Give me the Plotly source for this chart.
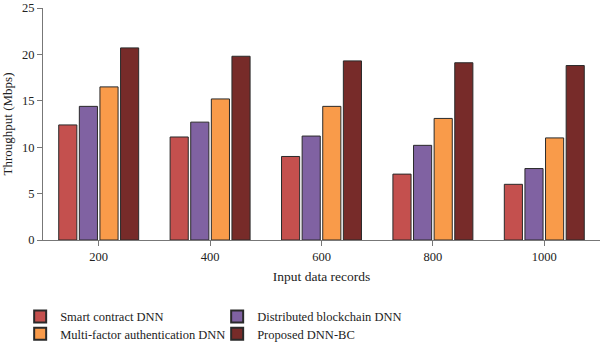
import plotly.graph_objects as go

categories = ["200", "400", "600", "800", "1000"]
smart_contract = [12.4, 11.1, 9.0, 7.1, 6.0]
distributed_blockchain = [14.4, 12.7, 11.2, 10.2, 7.7]
multi_factor = [16.5, 15.2, 14.4, 13.1, 11.0]
proposed = [20.7, 19.8, 19.3, 19.1, 18.8]

series = [
    ("Smart contract DNN", smart_contract, "#C4504E", "legend"),
    ("Distributed blockchain DNN", distributed_blockchain, "#8062A2", "legend"),
    ("Multi-factor authentication DNN", multi_factor, "#F99B4A", "legend2"),
    ("Proposed DNN-BC", proposed, "#772B29", "legend2"),
]

fig = go.Figure()
for name, vals, color, leg in series:
    fig.add_trace(go.Bar(
        x=categories, y=vals, name=name, legend=leg,
        marker=dict(color=color, line=dict(color="#2a2a2a", width=1)),
    ))

font_family = "Liberation Serif, DejaVu Serif, serif"
legend_common = dict(
    orientation="h", xanchor="left", yanchor="middle",
    entrywidth=152, entrywidthmode="pixels",
    font=dict(family=font_family, size=12.5, color="#222"),
    itemsizing="constant", bgcolor="rgba(0,0,0,0)",
)
fig.update_layout(
    width=600, height=342,
    margin=dict(l=43, r=0, t=8, b=102, autoexpand=False),
    plot_bgcolor="white", paper_bgcolor="white",
    barmode="group", bargap=0.26, bargroupgap=0.12,
    font=dict(family=font_family, size=12, color="#222"),
    showlegend=True,
    legend=dict(x=-0.041, y=-0.331, **legend_common),
    legend2=dict(x=-0.041, y=-0.406, **legend_common),
    xaxis=dict(
        title=dict(text="Input data records", font=dict(size=13.5), standoff=8),
        showline=True, linecolor="#777", linewidth=1,
        ticks="outside", ticklen=5, tickcolor="#777",
        tickfont=dict(size=12.5),
    ),
    yaxis=dict(
        title=dict(text="Throughput (Mbps)", font=dict(size=13), standoff=6),
        range=[0, 25], dtick=5,
        showline=True, linecolor="#777", linewidth=1,
        ticks="outside", ticklen=5, tickcolor="#777",
        showgrid=False, zeroline=False,
        tickfont=dict(size=12.5),
    ),
)

fig.write_html("out.html")
